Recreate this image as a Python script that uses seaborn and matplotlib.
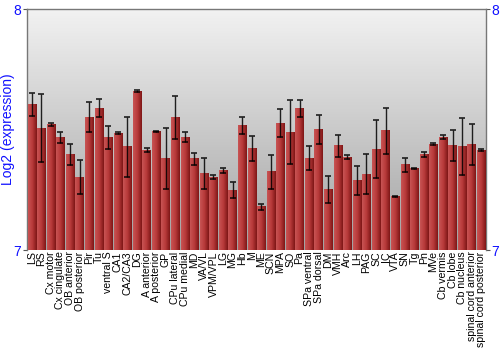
import numpy as np
import pandas as pd
import matplotlib
matplotlib.use("Agg")
import matplotlib.pyplot as plt
import seaborn as sns
from matplotlib.colors import LinearSegmentedColormap

regions = ["LS", "RS", "Cx motor", "Cx cingulate", "OB anterior", "OB posterior", "Pir", "Tu",
           "ventral S", "CA1", "CA2/CA3", "DG", "A anterior", "A posterior", "GP", "CPu lateral",
           "CPu medial", "MD", "VA/VL", "VPM/VPL", "LG", "MG", "Hb", "M",
           "ME", "SCN", "MPA", "SO", "Pa", "SPa ventral", "SPa dorsal", "DM", "VMH", "Arc",
           "LH", "PAG", "SC", "IC", "VTA", "SN", "Tg", "Pn", "MVe", "Cb vermis", "Cb lobe",
           "Cb nucleus", "spinal cord anterior", "spinal cord posterior"]
expression = [7.606, 7.506, 7.523, 7.468, 7.396, 7.303, 7.552, 7.589,
              7.469, 7.484, 7.429, 7.660, 7.415, 7.491, 7.380, 7.552,
              7.469, 7.378, 7.318, 7.302, 7.331, 7.249, 7.517, 7.422,
              7.180, 7.324, 7.526, 7.490, 7.588, 7.382, 7.501, 7.252, 7.432, 7.385,
              7.290, 7.315, 7.418, 7.495, 7.223, 7.353, 7.340, 7.398, 7.440, 7.469, 7.434,
              7.429, 7.440, 7.415]
error = [0.048, 0.140, 0.006, 0.023, 0.045, 0.072, 0.061, 0.037,
         0.048, 0.004, 0.124, 0.005, 0.010, 0.003, 0.127, 0.089,
         0.019, 0.026, 0.066, 0.008, 0.010, 0.032, 0.037, 0.053,
         0.012, 0.070, 0.058, 0.132, 0.037, 0.048, 0.059, 0.057, 0.047, 0.008,
         0.060, 0.084, 0.120, 0.095, 0.002, 0.031, 0.002, 0.010, 0.003, 0.009, 0.065,
         0.119, 0.085, 0.005]
y_ticks = [7, 8]

df = pd.DataFrame({"region": regions, "expr": expression, "err": error})

sns.set_style("white")
plt.rcParams['font.family'] = ['Liberation Sans', 'DejaVu Sans']

fig = plt.figure(figsize=(5, 3.5), dpi=100)
ax = fig.add_axes([0.054, 0.2857, 0.918, 0.688])

sns.barplot(data=df, x="region", y="expr", color="#b03030", width=0.87,
            errorbar=None, ax=ax, zorder=2, linewidth=0)
ymin, ymax = 7, 8
n = len(regions)

# background vertical gradient
bg = LinearSegmentedColormap.from_list("bg", ["#a2a2a2", "#f2f2f2"])
grad = np.linspace(0, 1, 256).reshape(-1, 1)
ax.imshow(grad, cmap=bg, aspect="auto", origin="lower",
          extent=[-0.5, n - 0.5, ymin, ymax], zorder=0)

# horizontal gradient for bars
barcmap = LinearSegmentedColormap.from_list("bar", ["#c85454", "#b83a3a", "#7e1616"])
hgrad = np.linspace(0, 1, 64).reshape(1, -1)
for p in list(ax.patches):
    x0, w = p.get_x(), p.get_width()
    top = p.get_y() + p.get_height()
    ax.imshow(hgrad, cmap=barcmap, aspect="auto",
              extent=[x0, x0 + w, ymin, top], zorder=3)
ax.set_xlim(-0.5, n - 0.5)
ax.set_ylim(ymin, ymax)

ax.errorbar(np.arange(n), df["expr"], yerr=df["err"], fmt="none",
            ecolor="black", elinewidth=1.0, capsize=2.5, capthick=1.2, zorder=4, alpha=0.85)

ax.set_yticks(y_ticks)
ax.set_yticklabels([str(t) for t in y_ticks], color="#1010ff", fontsize=10)
ax.tick_params(axis="y", left=True, right=True, labelleft=True, labelright=True,
               length=3, width=0.8, color="#555555", pad=1)
ax.tick_params(axis="x", bottom=False, length=0, pad=1)
ax.set_xticks(np.arange(n))
ax.set_xticklabels(regions, rotation=90, fontsize=7.6, color="black")
ax.set_xlabel("")
ax.set_ylabel("Log2 (expression)", color="#1010ff", fontsize=10, labelpad=-1)
for s in ["left", "right", "top"]:
    ax.spines[s].set_visible(True)
    ax.spines[s].set_color("#777777")
    ax.spines[s].set_linewidth(1)
ax.spines["bottom"].set_visible(False)

fig.savefig("out.png", dpi=100)
